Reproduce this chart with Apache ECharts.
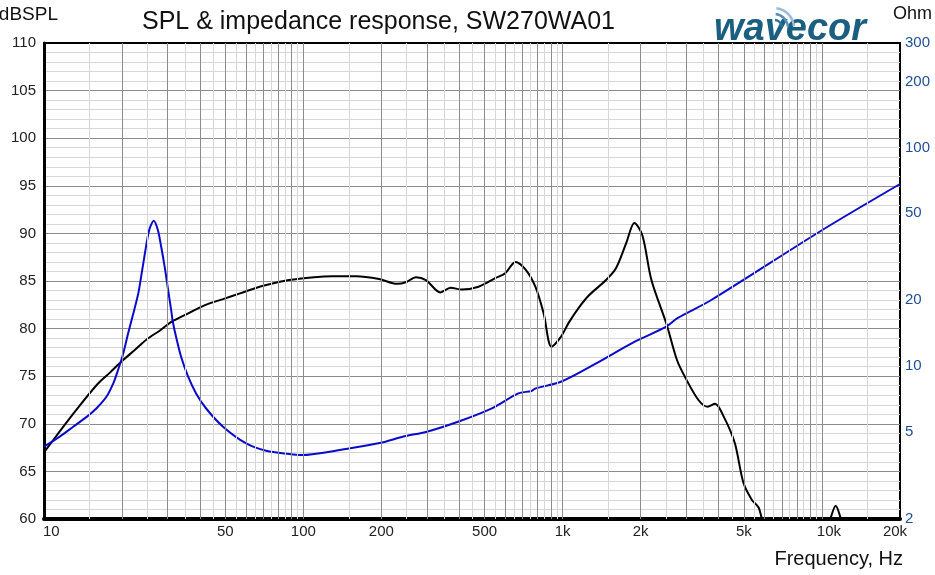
<!DOCTYPE html>
<html>
<head>
<meta charset="utf-8">
<script src="https://cdn.jsdelivr.net/npm/echarts@6/dist/echarts.min.js"></script>
<style>
  html, body { margin: 0; padding: 0; background: #fff; }
  #main { width: 935px; height: 575px; }
</style>
</head>
<body>
<div id="main"></div>
<script>
// SPL response (dB)
var splFreq = [10, 11.5, 13, 16, 18, 20, 22.5, 25, 28, 31, 36, 42, 49, 57, 70, 88, 110, 130, 160, 196, 230, 250, 272, 297, 338, 370, 408, 474, 550, 600, 658, 720, 785, 845, 906, 983, 1055, 1155, 1264, 1470, 1610, 1760, 1890, 2030, 2200, 2520, 2760, 2980, 3340, 3620, 3870, 4190, 4610, 4980, 5370, 5700, 5880, 6300, 8000, 10000, 10700, 11300, 11900, 13000, 16000, 20000];
var splDb = [67.0, 69.2, 71.1, 74.1, 75.4, 76.6, 77.8, 78.9, 79.8, 80.7, 81.6, 82.5, 83.1, 83.7, 84.5, 85.1, 85.4, 85.5, 85.5, 85.2, 84.7, 84.9, 85.4, 85.1, 83.8, 84.3, 84.1, 84.4, 85.3, 85.8, 87.0, 86.2, 84.4, 81.6, 78.1, 79.1, 80.6, 82.2, 83.5, 85.1, 86.4, 89.0, 91.1, 89.8, 85.1, 80.4, 76.7, 74.8, 72.5, 71.8, 72.1, 70.7, 68.0, 63.8, 62.0, 61.2, 60.0, 58.5, 57.0, 58.0, 59.8, 61.4, 59.8, 57.0, 55.0, 54.0];

// impedance (Ohm)
var impFreq = [10, 11.5, 12.96, 14.6, 15.95, 17.4, 18.5, 19.3, 20.2, 21.1, 22.1, 23.1, 23.7, 24.5, 25.2, 25.7, 26.5, 27.5, 28.3, 29.2, 30.1, 31.0, 31.4, 32.4, 33.8, 35.9, 38.6, 42.2, 48.9, 60.2, 71.9, 88.3, 98, 146, 197, 248, 297, 400, 536, 675, 758, 785, 990, 1370, 1890, 2500, 2780, 3730, 10000, 20000];
var impOhm = [4.28, 4.76, 5.28, 5.86, 6.42, 7.24, 8.34, 9.6, 11.4, 14.1, 17.4, 21.5, 25.7, 32.8, 39.8, 43.4, 46.2, 41.8, 35.2, 28.4, 22.3, 17.7, 15.9, 13.4, 11.0, 9.0, 7.5, 6.4, 5.3, 4.43, 4.10, 3.96, 3.92, 4.18, 4.45, 4.79, 5.0, 5.6, 6.43, 7.5, 7.7, 7.9, 8.5, 10.4, 12.9, 15.1, 16.6, 20.0, 41.8, 68];

// axis labels
var freqTicks = [10, 50, 100, 200, 500, 1000, 2000, 5000, 10000, 20000];
var freqTickText = ['10', '50', '100', '200', '500', '1k', '2k', '5k', '10k', '20k'];
var ohmTicks = [2, 5, 10, 20, 50, 100, 200, 300];

var FONT = '"Liberation Sans", Arial, sans-serif';

function zip(a, b) {
  var out = [];
  for (var i = 0; i < a.length; i++) out.push([a[i], b[i]]);
  return out;
}

// vertical grid: dark at 1..9 x decade, light at the half steps
var vLines = [];
[10, 100, 1000, 10000].forEach(function (dec) {
  for (var k = 1; k <= 9; k++) {
    var f = dec * k;
    if (f > 10 && f < 20000) {
      vLines.push({ xAxis: f, lineStyle: { color: '#8c8c8c', width: 1, type: 'solid' } });
    }
    var h = dec * (k + 0.5);
    if (h < 20000) {
      vLines.push({ xAxis: h, lineStyle: { color: '#d6d6d6', width: 1, type: 'solid' } });
    }
  }
});
// frequency labels (on transparent lines so they sit on the axis scale)
freqTicks.forEach(function (f, i) {
  var lbl = { show: true, position: 'start', formatter: freqTickText[i], color: '#222', fontSize: 15, fontFamily: FONT, distance: 5 };
  if (i === 0) { lbl.align = 'left'; lbl.offset = [-1, 0]; }
  if (f === 10000) lbl.offset = [7, 0];
  if (f === 20000) lbl.offset = [-5, 0];
  vLines.push({ xAxis: f, lineStyle: { color: 'rgba(0,0,0,0)' }, label: lbl });
});

var ohmLines = ohmTicks.map(function (v) {
  return {
    yAxis: v,
    lineStyle: { color: 'rgba(0,0,0,0)' },
    label: { show: true, position: 'end', formatter: String(v), color: '#1f4f96', fontSize: 15, fontFamily: FONT, distance: 5 }
  };
});

var myChart = echarts.init(document.getElementById('main'));

var option = {
  animation: false,
  backgroundColor: '#fff',
  title: {
    text: 'SPL & impedance response, SW270WA01',
    left: 137,
    top: 5,
    textStyle: { fontSize: 25, fontWeight: 'normal', color: '#111', fontFamily: FONT }
  },
  grid: {
    left: 44, right: 35, top: 43, bottom: 56,
    show: true, borderColor: '#000', borderWidth: 2, backgroundColor: '#fff'
  },
  xAxis: {
    type: 'log', logBase: 10, min: 10, max: 20000,
    axisLabel: { show: false },
    axisTick: { show: false },
    splitLine: { show: false },
    axisLine: { show: true, lineStyle: { color: '#000', width: 4 } }
  },
  yAxis: [{
    type: 'value', min: 60, max: 110, interval: 5,
    axisLabel: { color: '#222', fontSize: 15, fontFamily: FONT, margin: 8 },
    axisTick: { show: false },
    axisLine: { show: true, lineStyle: { color: '#000', width: 3 } },
    splitLine: { show: true, showMinLine: false, showMaxLine: false, lineStyle: { color: '#8c8c8c', width: 1 } },
    minorTick: { show: false, splitNumber: 5 },
    minorSplitLine: { show: true, lineStyle: { color: '#d6d6d6', width: 1 } }
  }, {
    type: 'log', logBase: 10, min: 2, max: 300, position: 'right',
    axisLabel: { show: false },
    axisTick: { show: false },
    axisLine: { show: false },
    splitLine: { show: false }
  }],
  graphic: [
    { type: 'text', right: 877, top: 5, style: { text: 'dBSPL', font: '19px ' + FONT, fill: '#111' } },
    { type: 'text', left: 893, top: 5, style: { text: 'Ohm', font: '18px ' + FONT, fill: '#111' } },
    { type: 'text', left: 714, top: 11, style: { text: 'wavecor', font: 'italic bold 38px ' + FONT, fill: '#1b5f80' } },
    { type: 'arc', shape: { cx: 774, cy: 28, r: 8, startAngle: -1.45, endAngle: -0.1 }, style: { stroke: '#2f6f99', lineWidth: 2.5, fill: null } },
    { type: 'arc', shape: { cx: 774, cy: 28, r: 14, startAngle: -1.45, endAngle: -0.1 }, style: { stroke: '#5a8fb8', lineWidth: 2.5, fill: null } },
    { type: 'arc', shape: { cx: 774, cy: 28, r: 20, startAngle: -1.45, endAngle: -0.1 }, style: { stroke: '#9bbbd6', lineWidth: 2.5, fill: null } },
    { type: 'text', right: 32, top: 549, style: { text: 'Frequency, Hz', font: '20px ' + FONT, fill: '#111' } }
  ],
  series: [{
    name: 'grid',
    type: 'line',
    z: 1,
    silent: true,
    showSymbol: false,
    data: [[1000, 85]],
    lineStyle: { opacity: 0 },
    markLine: { silent: true, symbol: 'none', animation: false, label: { show: false }, data: vLines }
  }, {
    name: 'ohmLabels',
    type: 'line',
    yAxisIndex: 1,
    z: 1,
    silent: true,
    showSymbol: false,
    data: [[1000, 10]],
    lineStyle: { opacity: 0 },
    markLine: { silent: true, symbol: 'none', animation: false, label: { show: false }, data: ohmLines }
  }, {
    name: 'SPL',
    type: 'line',
    z: 3,
    showSymbol: false,
    smooth: 0.3,
    clip: true,
    lineStyle: { color: '#000', width: 2 },
    data: zip(splFreq, splDb)
  }, {
    name: 'Impedance',
    type: 'line',
    yAxisIndex: 1,
    z: 3,
    showSymbol: false,
    smooth: 0.3,
    clip: true,
    lineStyle: { color: '#0a0acc', width: 2 },
    data: zip(impFreq, impOhm)
  }]
};

myChart.setOption(option);
</script>
</body>
</html>
